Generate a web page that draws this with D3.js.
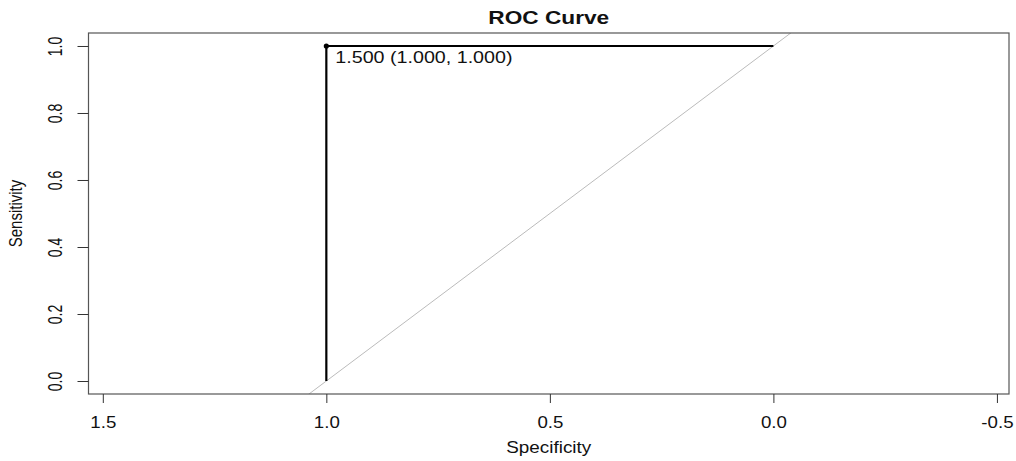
<!DOCTYPE html>
<html>
<head>
<meta charset="utf-8">
<script src="https://cdn.jsdelivr.net/npm/d3@7"></script>
<style>
  body { margin: 0; background: #fff; }
  svg { display: block; font-family: "Liberation Sans", Arial, sans-serif; }
</style>
</head>
<body>
<div id="chart"></div>
<script>
// ROC curve points (specificity, sensitivity)
const specificity = [0.0, 1.0, 1.0];
const sensitivity = [1.0, 1.0, 0.0];
const bestThreshold = 1.5;
const bestSpec = 1.0;
const bestSens = 1.0;

const xTicks = [1.5, 1.0, 0.5, 0.0, -0.5];
const yTicks = [0.0, 0.2, 0.4, 0.6, 0.8, 1.0];
const xLim = [1.532, -0.527];
const yLim = [-0.0388, 1.0388];

const W = 1016, H = 461;
const box = { left: 88.5, right: 1009, top: 33, bottom: 394 };
const sx = 1.2; // horizontal stretch of the original picture

const x = d3.scaleLinear().domain(xLim).range([box.left, box.right]);
const y = d3.scaleLinear().domain(yLim).range([box.bottom, box.top]);

const svg = d3.select('#chart').append('svg')
  .attr('width', W)
  .attr('height', H);

svg.append('clipPath').attr('id', 'plot-clip')
  .append('rect')
  .attr('x', box.left).attr('y', box.top)
  .attr('width', box.right - box.left)
  .attr('height', box.bottom - box.top);

// title
svg.append('text')
  .attr('transform', `translate(${(box.left + box.right) / 2},24) scale(1.26,1)`)
  .attr('text-anchor', 'middle')
  .style('font-size', '18px')
  .style('font-weight', 'bold')
  .style('fill', '#111')
  .text('ROC Curve');

// chance diagonal
const diag = d3.line().x(d => x(d)).y(d => y(1 - d));
svg.append('path')
  .attr('clip-path', 'url(#plot-clip)')
  .attr('d', diag([1.7, -0.7]))
  .style('fill', 'none')
  .style('stroke', '#bbb')
  .style('stroke-width', 1);

// ROC curve
const pts = specificity.map((s, i) => [s, sensitivity[i]]);
svg.append('path')
  .attr('d', d3.line().x(d => x(d[0])).y(d => y(d[1]))(pts))
  .style('fill', 'none')
  .style('stroke', '#000')
  .style('stroke-width', 2.2);

svg.append('circle')
  .attr('cx', x(bestSpec))
  .attr('cy', y(bestSens))
  .attr('r', 2.6)
  .style('fill', '#000');

svg.append('text')
  .attr('transform', `translate(${x(bestSpec) + 9},${y(bestSens) + 17}) scale(1.23,1)`)
  .style('font-size', '16px')
  .style('fill', '#111')
  .text(`${bestThreshold.toFixed(3)} (${bestSpec.toFixed(3)}, ${bestSens.toFixed(3)})`);

// box
svg.append('rect')
  .attr('x', box.left).attr('y', box.top)
  .attr('width', box.right - box.left)
  .attr('height', box.bottom - box.top)
  .style('fill', 'none')
  .style('stroke', '#555')
  .style('stroke-width', 1.2);

// x axis
const gx = svg.append('g')
  .attr('transform', `translate(0,${box.bottom})`)
  .call(d3.axisBottom(x).tickValues(xTicks).tickFormat(d => d.toFixed(1)).tickSize(9).tickSizeOuter(0));
gx.select('.domain').remove();
gx.selectAll('line').style('stroke', '#333');
gx.selectAll('text')
  .attr('y', null).attr('dy', null)
  .attr('transform', 'translate(0,34) scale(1.1,1)')
  .style('font-size', '17px')
  .style('font-family', '"Liberation Sans", Arial, sans-serif')
  .style('fill', '#111');

// y axis
const gy = svg.append('g')
  .attr('transform', `translate(${box.left},0)`)
  .call(d3.axisLeft(y).tickValues(yTicks).tickFormat(d => d.toFixed(1)).tickSize(11).tickSizeOuter(0));
gy.select('.domain').remove();
gy.selectAll('line').style('stroke', '#333');
gy.selectAll('text')
  .attr('x', null).attr('dy', null)
  .attr('text-anchor', 'middle')
  .attr('transform', 'translate(-27,0) scale(1.4,1) rotate(-90)')
  .style('font-size', '14px')
  .style('font-family', '"Liberation Sans", Arial, sans-serif')
  .style('fill', '#111');

// axis titles
svg.append('text')
  .attr('transform', `translate(${(box.left + box.right) / 2},453) scale(${sx - 0.02},1)`)
  .attr('text-anchor', 'middle')
  .style('font-size', '16px')
  .style('fill', '#111')
  .text('Specificity');

svg.append('text')
  .attr('transform', `translate(22,${(box.top + box.bottom) / 2}) scale(${sx},1) rotate(-90)`)
  .attr('text-anchor', 'middle')
  .style('font-size', '15px')
  .style('fill', '#111')
  .text('Sensitivity');
</script>
</body>
</html>
